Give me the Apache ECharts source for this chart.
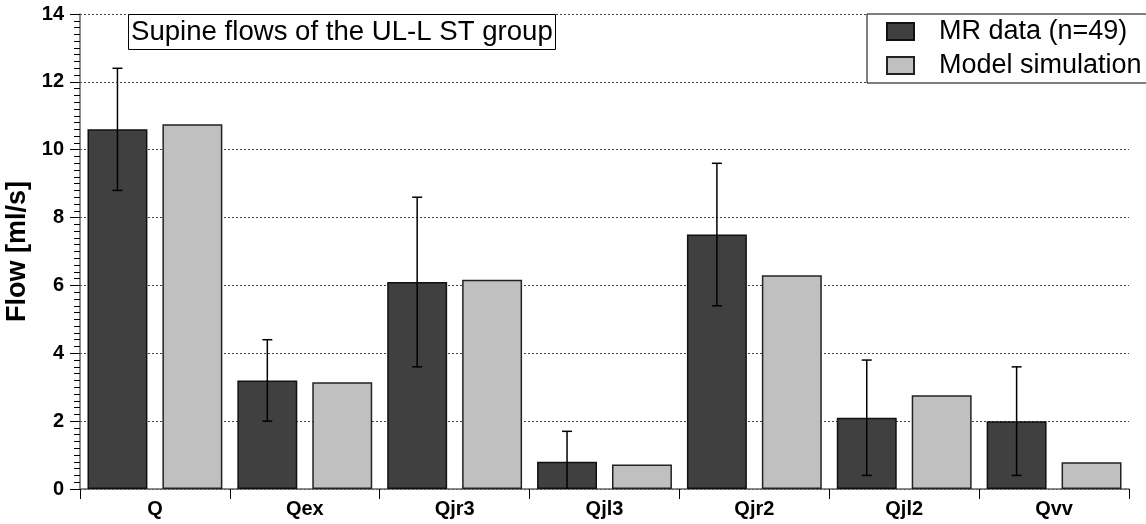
<!DOCTYPE html>
<html>
<head>
<meta charset="utf-8">
<script src="https://cdn.jsdelivr.net/npm/echarts@6/dist/echarts.min.js"></script>
<style>
html,body{margin:0;padding:0;background:#fff;}
#chart{width:1146px;height:524px;}
</style>
</head>
<body>
<div id="chart"></div>
<script>
const categories = ['Q', 'Qex', 'Qjr3', 'Qjl3', 'Qjr2', 'Qjl2', 'Qvv'];
const mrData = [10.6, 3.2, 6.1, 0.8, 7.5, 2.1, 2.0];
const mrError = [1.8, 1.2, 2.5, 0.9, 2.1, 1.7, 1.6];
const modelSim = [10.75, 3.15, 6.17, 0.72, 6.3, 2.76, 0.79];
const yTicks = [0, 2, 4, 6, 8, 10, 12, 14];

const FONT = "'Liberation Sans', Arial, sans-serif";
const chart = echarts.init(document.getElementById('chart'), null, {renderer: 'canvas'});

const errData = categories.map((c, i) => [i, mrData[i] - mrError[i], mrData[i] + mrError[i]]);

chart.setOption({
  animation: false,
  backgroundColor: '#fff',
  title: {
    text: 'Supine flows of the UL-L ST group',
    left: 128, top: 14,
    borderColor: '#000', borderWidth: 1,
    backgroundColor: '#fff',
    padding: [3, 3, 3, 3],
    textStyle: {fontFamily: FONT, fontSize: 27.6, fontWeight: 'normal', color: '#000', lineHeight: 30}
  },
  legend: {
    orient: 'vertical',
    left: 867, top: 14,
    borderColor: '#000', borderWidth: 1,
    backgroundColor: '#fff',
    padding: [4, 40, 4, 19],
    itemWidth: 27, itemHeight: 17, itemGap: 7,
    icon: 'rect',
    textStyle: {fontFamily: FONT, fontSize: 27, color: '#000', lineHeight: 26, padding: [0, 0, 0, 20]},
    data: ['MR data (n=49)', 'Model simulation']
  },
  grid: {left: 80, right: 17, top: 14, bottom: 35, containLabel: false, outerBoundsMode: 'none'},
  xAxis: {
    type: 'category',
    data: categories,
    axisLine: {show: true, lineStyle: {color: '#666', width: 1.5}},
    axisTick: {show: true, length: 10, lineStyle: {color: '#000', width: 1}},
    axisLabel: {fontFamily: FONT, fontSize: 20, fontWeight: 'bold', color: '#000', margin: 10},
    splitLine: {show: false}
  },
  yAxis: {
    type: 'value',
    min: 0, max: 14, interval: 2,
    name: 'Flow [ml/s]',
    nameLocation: 'middle',
    nameGap: 44,
    nameTextStyle: {fontFamily: FONT, fontSize: 27, fontWeight: 'bold', color: '#000'},
    axisLine: {show: true, lineStyle: {color: '#666', width: 1.5}},
    axisTick: {show: true, length: 10, lineStyle: {color: '#000', width: 1}},
    minorTick: {show: true, splitNumber: 10, length: 6, lineStyle: {color: '#000', width: 1}},
    axisLabel: {fontFamily: FONT, fontSize: 20, fontWeight: 'bold', color: '#000', margin: 16,
      formatter: v => yTicks.includes(v) ? String(v) : ''},
    splitLine: {show: true, lineStyle: {color: '#444', width: 1, type: [2, 2]}}
  },
  series: [
    {
      name: 'MR data (n=49)',
      type: 'bar',
      data: mrData,
      barCategoryGap: '10%',
      barGap: '25%',
      itemStyle: {color: '#404040', borderColor: '#111', borderWidth: 1.5}
    },
    {
      name: 'Model simulation',
      type: 'bar',
      data: modelSim,
      itemStyle: {color: '#c0c0c0', borderColor: '#222', borderWidth: 1.5}
    },
    {
      name: 'error',
      type: 'custom',
      data: errData,
      encode: {x: 0, y: [1, 2]},
      z: 10,
      renderItem: function (params, api) {
        const idx = api.value(0);
        const lo = api.value(1);
        const hi = api.value(2);
        const band = api.size([1, 0])[0];
        const x = api.coord([idx, 0])[0] - band * 0.25;
        const yHi = api.coord([idx, hi])[1];
        const y0 = api.coord([idx, 0])[1];
        const yLoRaw = api.coord([idx, lo])[1];
        const yLo = Math.min(yLoRaw, y0);
        const style = {stroke: '#000', lineWidth: 1.5};
        const children = [
          {type: 'line', shape: {x1: x, y1: yHi, x2: x, y2: yLo}, style: style},
          {type: 'line', shape: {x1: x - 5, y1: yHi, x2: x + 5, y2: yHi}, style: style}
        ];
        if (lo >= 0) {
          children.push({type: 'line', shape: {x1: x - 5, y1: yLo, x2: x + 5, y2: yLo}, style: style});
        }
        return {type: 'group', children: children};
      }
    }
  ]
});
</script>
</body>
</html>
